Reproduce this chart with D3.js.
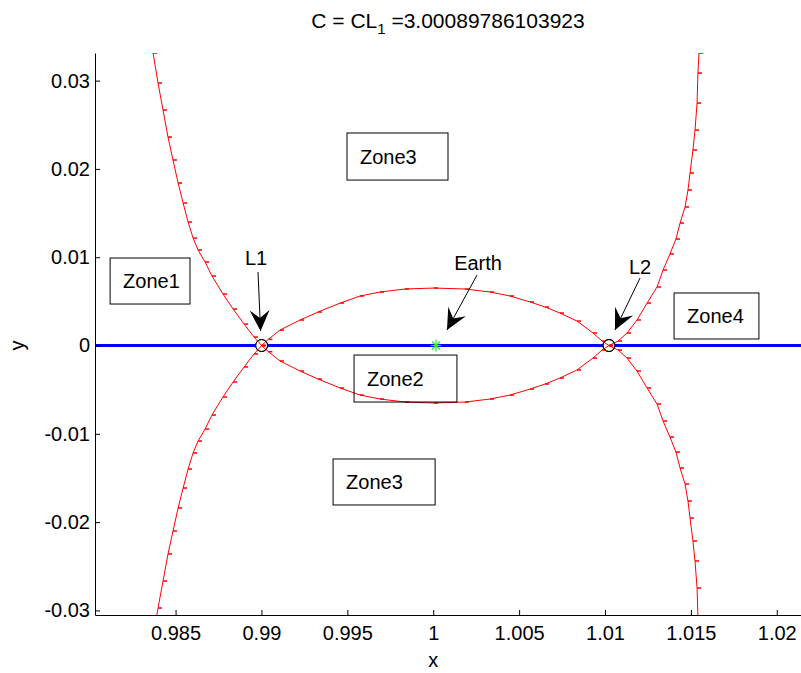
<!DOCTYPE html>
<html>
<head>
<meta charset="utf-8">
<script src="https://cdn.jsdelivr.net/npm/d3@7"></script>
<style>
  body { margin: 0; background: #fff; }
  text { font-family: "Liberation Sans", Arial, sans-serif; }
</style>
</head>
<body>
<script>
// zero velocity curve branches, [x, y]
var outerLeftUpper = [[0.98369,0.03313],[0.98398,0.02973],[0.98427,0.02667],[0.98456,0.02361],[0.98485,0.02101],[0.98515,0.01840],[0.98544,0.01614],[0.98573,0.01399],[0.98602,0.01217],[0.98631,0.01082],[0.98672,0.00946],[0.98712,0.00787],[0.98776,0.00583],[0.98835,0.00413],[0.98899,0.00243],[0.98957,0.00096],[0.99001,0]];
var outerLeftLower = [[0.98369,-0.03313],[0.98398,-0.02973],[0.98427,-0.02667],[0.98456,-0.02361],[0.98485,-0.02101],[0.98515,-0.01840],[0.98544,-0.01614],[0.98573,-0.01399],[0.98602,-0.01217],[0.98631,-0.01082],[0.98672,-0.00946],[0.98712,-0.00787],[0.98776,-0.00583],[0.98835,-0.00413],[0.98899,-0.00243],[0.98957,-0.00096],[0.99001,0]];
var innerUpper = [[0.99001,0],[0.99040,0.00070],[0.99108,0.00175],[0.99225,0.00289],[0.99329,0.00379],[0.99458,0.00481],[0.99574,0.00561],[0.99690,0.00606],[0.99836,0.00640],[1.00005,0.00651],[1.00185,0.00640],[1.00331,0.00606],[1.00447,0.00561],[1.00564,0.00493],[1.00651,0.00436],[1.00738,0.00368],[1.00837,0.00277],[1.00930,0.00142],[1.00983,0.00051],[1.01023,0]];
var innerLower = [[0.99001,0],[0.99040,-0.00070],[0.99108,-0.00175],[0.99225,-0.00289],[0.99329,-0.00379],[0.99458,-0.00481],[0.99574,-0.00561],[0.99690,-0.00606],[0.99836,-0.00640],[1.00005,-0.00651],[1.00185,-0.00640],[1.00331,-0.00606],[1.00447,-0.00561],[1.00564,-0.00493],[1.00651,-0.00436],[1.00738,-0.00368],[1.00837,-0.00277],[1.00930,-0.00142],[1.00983,-0.00051],[1.01023,0]];
var outerRightUpper = [[1.01023,0],[1.01076,0.00051],[1.01128,0.00142],[1.01186,0.00289],[1.01245,0.00481],[1.01303,0.00663],[1.01338,0.00855],[1.01378,0.01036],[1.01413,0.01206],[1.01437,0.01387],[1.01466,0.01569],[1.01483,0.01761],[1.01495,0.01954],[1.01512,0.02214],[1.01524,0.02440],[1.01536,0.02746],[1.01541,0.03086],[1.01547,0.03313]];
var outerRightLower = [[1.01023,0],[1.01076,-0.00051],[1.01128,-0.00142],[1.01186,-0.00289],[1.01245,-0.00481],[1.01303,-0.00663],[1.01338,-0.00855],[1.01378,-0.01036],[1.01413,-0.01206],[1.01437,-0.01387],[1.01466,-0.01569],[1.01483,-0.01761],[1.01495,-0.01954],[1.01512,-0.02214],[1.01524,-0.02440],[1.01536,-0.02746],[1.01541,-0.03086],[1.01547,-0.03313]];

// special points
var lagrangePoints = [[0.99001,0],[1.01023,0]];
var earthPos = [1.00016,0];

// tick values and labels
var xTicks = [0.985,0.99,0.995,1,1.005,1.01,1.015,1.02];
var xTickLabels = ["0.985","0.99","0.995","1","1.005","1.01","1.015","1.02"];
var yTicks = [-0.03,-0.02,-0.01,0,0.01,0.02,0.03];
var yTickLabels = ["-0.03","-0.02","-0.01","0","0.01","0.02","0.03"];

// text boxes: name, x0, x1, yTop, yBottom (data units)
var zoneNames = ["Zone3","Zone1","Zone4","Zone2","Zone3"];
var zoneBoxes = [[0.99498,1.00086,0.02407,0.01874],[0.98119,0.98584,0.00991,0.00470],[1.01402,1.01896,0.00595,0.00074],[0.99539,1.00138,-0.00108,-0.00640],[0.99417,1.00011,-0.01285,-0.01806]];

// arrows: label, text pos, tail, tip (data units)
var arrowNames = ["L1","L2","Earth"];
var arrowText = [[0.98969,0.00912],[1.01204,0.00810],[1.00261,0.00855]];
var arrowTail = [[0.98980,0.00832],[1.01204,0.00764],[1.00255,0.00798]];
var arrowTip = [[0.98995,0.00164],[1.01058,0.00176],[1.00080,0.00176]];

var margin = { top: 53, right: 0, bottom: 58, left: 95 },
    width = 801 - margin.left - margin.right,
    height = 673 - margin.top - margin.bottom;

var x = d3.scaleLinear().domain([0.98031, 1.02141]).range([0, width]);
var y = d3.scaleLinear().domain([-0.03052, 0.03313]).range([height, 0]);

var root = d3.select("body").append("svg")
    .attr("width", 801)
    .attr("height", 673);

var svg = root.append("g")
    .attr("transform", "translate(" + margin.left + "," + margin.top + ")");

svg.append("clipPath").attr("id", "plotclip")
    .append("rect").attr("width", width).attr("height", height);

var plot = svg.append("g").attr("clip-path", "url(#plotclip)");

// y = 0 line
plot.append("line")
    .attr("x1", 0).attr("x2", width)
    .attr("y1", y(0)).attr("y2", y(0))
    .attr("stroke", "#0000ff")
    .attr("stroke-width", 3);

// libration points
plot.selectAll(".lp")
    .data(lagrangePoints)
    .enter().append("circle")
    .attr("class", "lp")
    .attr("cx", function(d) { return x(d[0]); })
    .attr("cy", function(d) { return y(d[1]); })
    .attr("r", 6)
    .attr("fill", "#fff")
    .attr("stroke", "#000")
    .attr("stroke-width", 1);

// red curves
var branches = [outerLeftUpper, outerLeftLower, innerUpper, innerLower, outerRightUpper, outerRightLower];
var line = d3.line()
    .x(function(d) { return x(d[0]); })
    .y(function(d) { return y(d[1]); });

plot.selectAll(".zvc")
    .data(branches)
    .enter().append("path")
    .attr("class", "zvc")
    .attr("d", line)
    .attr("fill", "none")
    .attr("stroke", "#ff0000")
    .attr("stroke-width", 1);

// small point markers along the curves
plot.selectAll(".pt")
    .data(d3.merge(branches))
    .enter().append("path")
    .attr("class", "pt")
    .attr("d", function(d) { return "M" + x(d[0]) + "," + y(d[1]) + "h4"; })
    .attr("stroke", "#ff0000")
    .attr("stroke-width", 1.5);

// circle outlines again on top
plot.selectAll(".lp2")
    .data(lagrangePoints)
    .enter().append("circle")
    .attr("cx", function(d) { return x(d[0]); })
    .attr("cy", function(d) { return y(d[1]); })
    .attr("r", 6)
    .attr("fill", "none")
    .attr("stroke", "#000")
    .attr("stroke-width", 1);

// earth marker (asterisk)
var ex = x(earthPos[0]), ey = y(earthPos[1]);
plot.append("path")
    .attr("d", "M" + (ex - 5) + "," + ey + "h10M" + ex + "," + (ey - 6) + "v12" +
        "M" + (ex - 4) + "," + (ey - 4) + "l8,8M" + (ex - 4) + "," + (ey + 4) + "l8,-8")
    .attr("stroke", "#22ee22")
    .attr("stroke-width", 1.2);

// axes
var xAxis = svg.append("g")
    .attr("transform", "translate(0," + height + ")")
    .call(d3.axisBottom(x)
        .tickValues(xTicks)
        .tickFormat(function(d, i) { return xTickLabels[i]; })
        .tickSizeInner(-5)
        .tickSizeOuter(0)
        .tickPadding(11));

var yAxis = svg.append("g")
    .call(d3.axisLeft(y)
        .tickValues(yTicks)
        .tickFormat(function(d, i) { return yTickLabels[i]; })
        .tickSizeInner(-5)
        .tickSizeOuter(0)
        .tickPadding(5));

[xAxis, yAxis].forEach(function(a) {
    a.attr("font-family", "Liberation Sans, Arial, sans-serif")
        .attr("font-size", 20);
    a.selectAll("text").attr("fill", "#000");
    a.selectAll("line, path").attr("stroke", "#000");
});

// zone text boxes (transparent, curves show through)
zoneBoxes.forEach(function(b, i) {
    var x0 = x(b[0]), x1 = x(b[1]), y0 = y(b[2]), y1 = y(b[3]);
    svg.append("rect")
        .attr("x", x0).attr("y", y0)
        .attr("width", x1 - x0).attr("height", y1 - y0)
        .attr("fill", "none")
        .attr("stroke", "#000")
        .attr("stroke-width", 1);
    svg.append("text")
        .attr("x", x0 + 13)
        .attr("y", (y0 + y1) / 2)
        .attr("dy", "0.35em")
        .attr("font-size", 20)
        .text(zoneNames[i]);
});

// arrows with labels
arrowNames.forEach(function(name, i) {
    var tx = x(arrowTail[i][0]), ty = y(arrowTail[i][1]);
    var hx = x(arrowTip[i][0]), hy = y(arrowTip[i][1]);
    var ang = Math.atan2(hy - ty, hx - tx) * 180 / Math.PI;
    svg.append("line")
        .attr("x1", tx).attr("y1", ty)
        .attr("x2", hx).attr("y2", hy)
        .attr("stroke", "#000")
        .attr("stroke-width", 1);
    svg.append("path")
        .attr("d", "M0,0L-21,-10L-13,0L-21,10Z")
        .attr("transform", "translate(" + hx + "," + hy + ") rotate(" + ang + ")")
        .attr("fill", "#000");
    svg.append("text")
        .attr("x", x(arrowText[i][0]))
        .attr("y", y(arrowText[i][1]))
        .attr("text-anchor", "middle")
        .attr("font-size", 20)
        .text(name);
});

// axis labels
svg.append("text")
    .attr("x", x(1))
    .attr("y", height + 52)
    .attr("text-anchor", "middle")
    .attr("font-size", 20)
    .text("x");

svg.append("text")
    .attr("transform", "translate(" + (-71) + "," + y(0) + ") rotate(-90)")
    .attr("text-anchor", "middle")
    .attr("font-size", 20)
    .text("y");

// title
var title = root.append("text")
    .attr("x", 448)
    .attr("y", 28)
    .attr("text-anchor", "middle")
    .attr("font-size", 21);
title.append("tspan").text("C = CL");
title.append("tspan").attr("font-size", 15).attr("dy", 6).text("1");
title.append("tspan").attr("dy", -6).text(" =3.00089786103923");
</script>
</body>
</html>
